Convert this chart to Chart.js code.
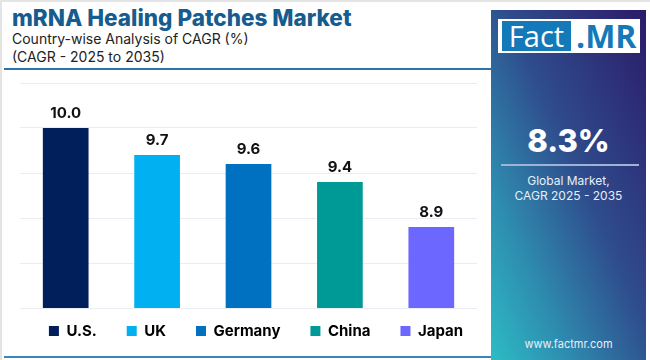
<!DOCTYPE html>
<html>
<head>
<meta charset="utf-8">
<script src="https://cdn.jsdelivr.net/npm/chart.js@4.4.1/dist/chart.umd.min.js"></script>
<style>
    body {
        margin: 0;
        width: 650px;
        height: 360px;
        overflow: hidden;
        background: #ffffff;
        font-family: "Inter", "Open Sans", sans-serif;
    }
    .card {
        position: absolute;
        left: 0;
        top: 0;
        width: 648px;
        height: 358px;
        border-top: 2px solid #e4e4e4;
        border-left: 2px solid #e4e4e4;
    }
    .title {
        position: absolute;
        left: 12px;
        top: 4px;
        font-size: 22.5px;
        font-weight: 800;
        color: #165c8e;
    }
    .subtitle {
        position: absolute;
        left: 12px;
        font-size: 14px;
        color: #222;
    }
    .rule {
        position: absolute;
        left: 4px;
        top: 68px;
        width: 487px;
        height: 2px;
        background: #2f72a8;
    }
    .bottom-rule {
        position: absolute;
        left: 4px;
        top: 356px;
        width: 487px;
        height: 2px;
        background: #3a86b8;
    }
    .panel {
        position: absolute;
        z-index: 2;
        left: 491px;
        top: 10px;
        width: 155px;
        height: 350px;
        background: linear-gradient(to bottom left, #2b1b69 0%, #2f4c8c 45%, #2e8cb0 75%, #2dbcc4 100%);
        color: #fff;
        text-align: center;
    }
    .logo {
        position: absolute;
        left: 7px;
        top: 9px;
        width: 142px;
        height: 34px;
        background: #fff;
    }
    .logo .fact {
        position: absolute;
        left: 4px;
        top: 2px;
        width: 69px;
        height: 30px;
        background: #1479b8;
        color: #fff;
        font-family: "Open Sans", sans-serif;
        font-size: 29px;
        line-height: 30px;
        text-align: center;
    }
    .logo .mr {
        position: absolute;
        left: 78px;
        top: 1px;
        color: #1479b8;
        font-family: "Open Sans", sans-serif;
        font-weight: 700;
        font-size: 32px;
        line-height: 32px;
    }
    .big {
        position: absolute;
        left: 0;
        width: 155px;
        top: 112px;
        font-size: 31px;
        font-weight: 800;
    }
    .panel-rule {
        position: absolute;
        left: 10px;
        top: 154px;
        width: 138px;
        height: 2px;
        background: #9fb3d6;
    }
    .panel-text {
        position: absolute;
        left: 0;
        width: 155px;
        top: 163px;
        font-size: 12px;
        line-height: 15px;
        color: #e8eef8;
    }
    .site {
        position: absolute;
        left: 0;
        width: 155px;
        top: 327px;
        font-size: 11px;
        color: #e8eef8;
    }
    #chartWrap {
        position: absolute;
        z-index: 1;
        left: -20px;
        top: 72px;
        width: 552px;
        height: 291px;
    }
</style>
</head>
<body>
<div class="card"></div>
<div class="title">mRNA Healing Patches Market</div>
<div class="subtitle" style="top: 30px;">Country-wise Analysis of CAGR (%)</div>
<div class="subtitle" style="top: 48px;">(CAGR - 2025 to 2035)</div>
<div class="rule"></div>
<div class="bottom-rule"></div>

<div id="chartWrap"><canvas id="cagrChart"></canvas></div>

<div class="panel">
    <div class="logo">
        <div class="fact">Fact</div>
        <div class="mr">.MR</div>
    </div>
    <div class="big">8.3%</div>
    <div class="panel-rule"></div>
    <div class="panel-text">Global Market,<br>CAGR 2025 - 2035</div>
    <div class="site">www.factmr.com</div>
</div>

<script>
const countries = ["U.S.", "UK", "Germany", "China", "Japan"];
const cagrValues = [10.0, 9.7, 9.6, 9.4, 8.9];
const barColors = ["#001f5b", "#00b0f0", "#0070c0", "#009a96", "#6c67fe"];
const yTicks = [8, 8.5, 9, 9.5, 10, 10.5];

// value above each bar
const valueLabelPlugin = {
    id: "valueLabels",
    afterDatasetsDraw(chart) {
        const ctx = chart.ctx;
        const meta = chart.getDatasetMeta(0);
        ctx.save();
        ctx.font = "bold 15px Inter, sans-serif";
        ctx.fillStyle = "#111111";
        ctx.textAlign = "center";
        ctx.textBaseline = "bottom";
        meta.data.forEach((bar, i) => {
            ctx.fillText(cagrValues[i].toFixed(1), bar.x, bar.y - 7);
        });
        ctx.restore();
    }
};

new Chart(document.getElementById("cagrChart"), {
    type: "bar",
    data: {
        labels: countries,
        datasets: [
            {
                label: "CAGR",
                data: cagrValues,
                backgroundColor: barColors,
                borderWidth: 0,
                categoryPercentage: 1,
                barPercentage: 0.5
            }
        ]
    },
    options: {
        responsive: true,
        maintainAspectRatio: false,
        animation: false,
        layout: {
            padding: { left: 0, right: 0, top: 11, bottom: 0 }
        },
        plugins: {
            tooltip: { enabled: false },
            legend: {
                position: "bottom",
                labels: {
                    boxWidth: 10,
                    boxHeight: 10,
                    padding: 30,
                    color: "#111111",
                    font: { family: "Inter", size: 15, weight: "bold" },
                    generateLabels(chart) {
                        return chart.data.labels.map((label, i) => ({
                            text: label,
                            fillStyle: barColors[i],
                            strokeStyle: barColors[i],
                            lineWidth: 0,
                            index: i
                        }));
                    }
                }
            }
        },
        scales: {
            x: {
                ticks: { display: false },
                grid: { display: false },
                border: { display: false },
                // pull the legend up closer to the bars
                afterFit(axis) {
                    axis.height = -14.5;
                }
            },
            y: {
                min: yTicks[0],
                max: yTicks[yTicks.length - 1],
                afterBuildTicks(axis) {
                    axis.ticks = yTicks.map(v => ({ value: v }));
                },
                afterFit(axis) {
                    axis.width = 40;
                },
                ticks: { display: false },
                border: { display: false },
                grid: { color: "#e9edf3", drawTicks: false }
            },
            yRight: {
                position: "right",
                ticks: { display: false },
                grid: { display: false },
                border: { display: false },
                afterFit(axis) {
                    axis.width = 55;
                }
            }
        }
    },
    plugins: [valueLabelPlugin]
});
</script>
</body>
</html>
